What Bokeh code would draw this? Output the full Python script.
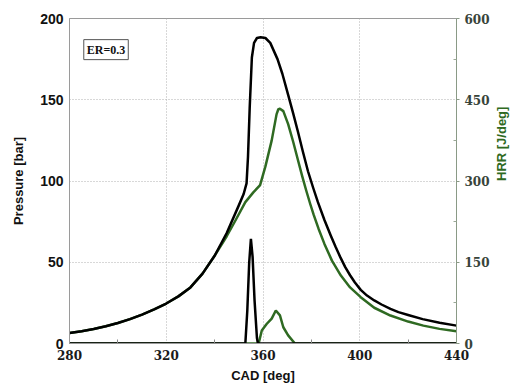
import math
from bokeh.plotting import figure
from bokeh.models import Range1d, LinearAxis, FixedTicker, Label
from bokeh.embed import file_html
from bokeh.resources import INLINE

# ---- data ----
cad_black_p = [280, 285, 290, 295, 300, 305, 310, 315, 320, 325, 330, 335, 340, 345,
               350, 352, 353.2, 353.8, 354.5, 355.4, 356.3, 357.5, 359, 361, 363, 366, 368,
               370.4, 372.5, 374.5, 376.5, 378.6, 380.7, 382.7, 385.4, 388, 390, 392, 394,
               396, 398, 400.4, 403, 406, 409, 412.7, 416, 420, 426, 433, 440]
p_black = [6.5, 7.6, 8.9, 10.6, 12.6, 15.0, 17.8, 21.0, 24.6, 29.0, 34.5, 43, 54, 68,
           85, 92, 98.5, 115, 145, 176, 185, 188, 188.5, 188, 185, 175, 166,
           153, 141.5, 130, 118, 106, 96, 87, 76, 66.5, 59.5, 53, 47,
           42, 37.5, 33, 29.5, 26.5, 24, 21.3, 19.3, 17.5, 15, 12.8, 11]

cad_green_p = [280, 285, 290, 295, 300, 305, 310, 315, 320, 325, 330, 335, 340, 345,
               348.6, 352.7, 356, 358.8, 361, 363.6, 365.6, 366.3, 367, 368.4, 370.4, 372.5,
               374.5, 376.2, 377.9, 379.5, 381, 383, 385.4, 388.5, 392.2, 396, 400.4, 406,
               412.7, 420, 426.3, 433, 440]
p_green = [6.5, 7.6, 8.9, 10.6, 12.6, 15.0, 17.8, 21.0, 24.6, 29.0, 34.5, 43, 54, 66,
           75.7, 87, 93, 97.5, 109, 125, 141, 144, 144.5, 143, 135, 124,
           112.6, 103, 94, 86, 79, 70.5, 61.3, 51, 41.8, 34.5, 28.5, 22,
           17.2, 13.5, 11, 9, 7.6]

cad_black_hrr = [280, 352.7, 353.5, 354.3, 355, 355.7, 356.5, 357.5, 357.9, 440]
hrr_black = [0, 0, 60, 150, 193, 160, 80, 10, 0, 0]

cad_green_hrr = [280, 358.2, 359.5, 361.5, 363.6, 365.3, 367, 368.4, 370.4, 373.2, 440]
hrr_green = [0, 0, 24, 36, 46, 61, 52, 30, 15, 0, 0]

x_ticks = [280, 320, 360, 400, 440]
p_ticks = [0, 50, 100, 150, 200]
hrr_ticks = [0, 150, 300, 450, 600]

GREEN = "#2f6a22"
GRID = "#b0b0b0"
AXIS = "#9a9a9a"

p = figure(width=519, height=385, output_backend="svg", toolbar_location=None,
           x_range=Range1d(280, 440), y_range=Range1d(0, 200),
           min_border_left=69, min_border_right=59, min_border_top=18, min_border_bottom=42)
p.extra_y_ranges = {"hrr": Range1d(0, 600)}
p.background_fill_color = "white"
p.border_fill_color = "white"
p.outline_line_color = AXIS
p.outline_line_width = 1

# grid
p.xgrid.ticker = FixedTicker(ticks=[320, 360, 400])
p.ygrid.ticker = FixedTicker(ticks=[50, 100, 150])
for g in (p.xgrid, p.ygrid):
    g.grid_line_color = GRID
    g.grid_line_dash = "1 2"
    g.grid_line_width = 1

# x axis
xa = p.xaxis[0]
xa.ticker = FixedTicker(ticks=x_ticks, minor_ticks=[300, 340, 380, 420])
xa.axis_line_color = AXIS
xa.major_tick_in = 0
xa.major_tick_out = 0
xa.minor_tick_in = 4
xa.minor_tick_out = 0
xa.minor_tick_line_color = "#888888"
xa.major_label_text_font = "DejaVu Serif"
xa.major_label_text_font_style = "bold"
xa.major_label_text_font_size = "12px"
xa.major_label_text_color = "#1a1a1a"
xa.major_label_standoff = 6
xa.axis_label = "CAD [deg]"
xa.axis_label_text_font = "Liberation Sans"
xa.axis_label_text_font_style = "bold"
xa.axis_label_text_font_size = "13px"
xa.axis_label_text_color = "#111111"
xa.axis_label_standoff = 5

# left axis
ya = p.yaxis[0]
ya.ticker = FixedTicker(ticks=p_ticks)
ya.axis_line_color = AXIS
ya.major_tick_in = 0
ya.major_tick_out = 0
ya.minor_tick_line_color = None
ya.major_label_text_font = "Liberation Sans"
ya.major_label_text_font_style = "bold"
ya.major_label_text_font_size = "14px"
ya.major_label_text_color = "#111111"
ya.major_label_standoff = 6
ya.axis_label = "Pressure [bar]"
ya.axis_label_text_font = "Liberation Sans"
ya.axis_label_text_font_style = "bold"
ya.axis_label_text_font_size = "13px"
ya.axis_label_text_color = "#111111"
ya.axis_label_standoff = 11

# right axis
ra = LinearAxis(y_range_name="hrr",
                ticker=FixedTicker(ticks=hrr_ticks, minor_ticks=[75, 225, 375, 525]))
ra.axis_line_color = "#8a9a86"
ra.major_tick_in = 0
ra.major_tick_out = 3
ra.major_tick_line_color = "#8a9a86"
ra.minor_tick_in = 3
ra.minor_tick_out = 0
ra.minor_tick_line_color = "#9aa896"
ra.major_label_text_font = "DejaVu Serif"
ra.major_label_text_font_style = "bold"
ra.major_label_text_font_size = "12px"
ra.major_label_text_color = "#38443a"
ra.major_label_standoff = 5
ra.axis_label = "HRR [J/deg]"
ra.axis_label_orientation = math.pi / 2
ra.axis_label_text_font = "Liberation Sans"
ra.axis_label_text_font_style = "bold"
ra.axis_label_text_font_size = "13px"
ra.axis_label_text_color = GREEN
ra.axis_label_standoff = 9
p.add_layout(ra, "right")

# curves
p.line(cad_green_hrr, hrr_green, y_range_name="hrr", line_color=GREEN, line_width=2.5)
p.line(cad_black_hrr, hrr_black, y_range_name="hrr", line_color="black", line_width=2.5)
p.line(cad_green_p, p_green, line_color=GREEN, line_width=2.5, line_join="round")
p.line(cad_black_p, p_black, line_color="black", line_width=2.5, line_join="round")

# ER annotation box
er = Label(x=285.9, y=187, text="ER=0.3", text_font="Liberation Serif",
           text_font_style="bold", text_font_size="12px", text_color="#111111",
           text_baseline="top", text_align="left",
           border_line_color="#555555", border_line_width=1,
           background_fill_color="white", padding=3)
p.add_layout(er)

open("out.html", "w").write(file_html(p, INLINE))
